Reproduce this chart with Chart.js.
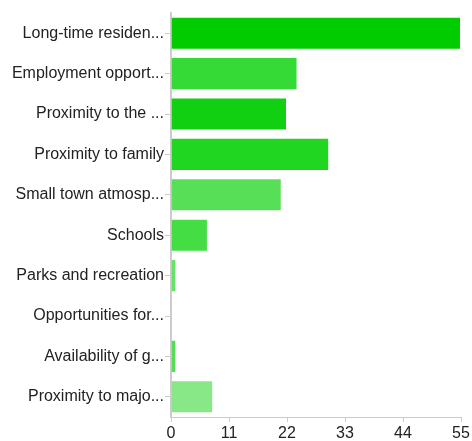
<!DOCTYPE html>
<html>
<head>
<meta charset="utf-8">
<script src="https://cdn.jsdelivr.net/npm/chart.js@4.4.1/dist/chart.umd.min.js"></script>
<style>
  html, body { margin: 0; padding: 0; background: #fff; }
  #wrap { width: 472px; height: 441px; }
</style>
</head>
<body>
<div id="wrap"><canvas id="chart"></canvas></div>
<script>
let categories = ["Long-time residen...", "Employment opport...", "Proximity to the ...", "Proximity to family",
  "Small town atmosp...", "Schools", "Parks and recreation", "Opportunities for...", "Availability of g...", "Proximity to majo..."]
let counts = [55, 24, 22, 30, 21, 7, 1, 0, 1, 8]
let xTicks = [0, 11, 22, 33, 44, 55]
let barColors = ["#00cc00", "#36da36", "#11d011", "#20d620", "#57e057", "#44dd44", "#66e366", "#5ce05c", "#55dd55", "#88e888"]

new Chart("chart", {
  type: "bar",
  data: {
    labels: categories,
    datasets: [{
      data: counts,
      backgroundColor: barColors,
      borderColor: "rgba(255,255,255,0.35)",
      borderWidth: 1,
      borderSkipped: "start",
      categoryPercentage: 0.82,
      barPercentage: 1
    }]
  },
  options: {
    indexAxis: "y",
    responsive: true,
    maintainAspectRatio: false,
    animation: false,
    layout: { padding: { top: 13, right: 11, left: 0, bottom: 0 } },
    plugins: { legend: { display: false }, tooltip: { enabled: false } },
    scales: {
      x: {
        min: 0,
        max: 55,
        afterBuildTicks: scale => { scale.ticks = xTicks.map(v => ({ value: v })) },
        afterFit: scale => { scale.height = 24 },
        grid: { drawOnChartArea: false, color: "#cccccc", tickLength: 5 },
        border: { color: "#cccccc", width: 1 },
        ticks: { color: "#222", font: { family: "Liberation Sans, Arial", size: 16 }, padding: 2, maxRotation: 0 }
      },
      y: {
        afterFit: scale => { scale.width = 171 },
        grid: { drawOnChartArea: false, offset: false, color: "#cccccc", tickLength: 6 },
        border: { color: "#cccccc", width: 2 },
        ticks: { color: "#222", font: { family: "Liberation Sans, Arial", size: 16 }, padding: 1 }
      }
    }
  }
});
</script>
</body>
</html>
